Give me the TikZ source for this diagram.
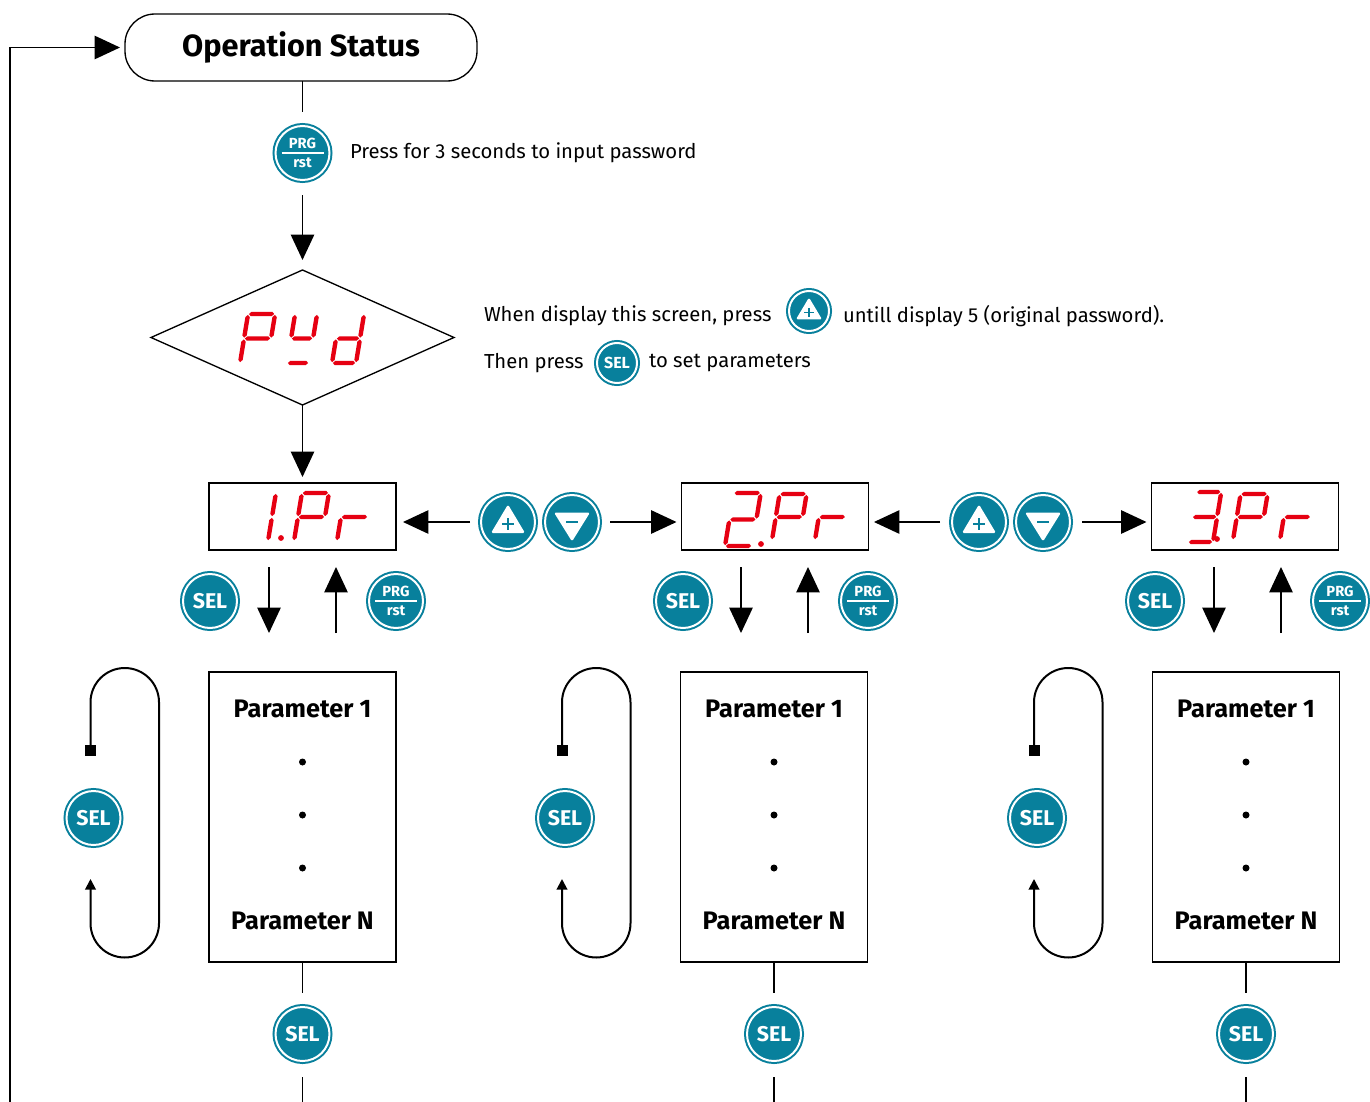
\documentclass[tikz,border=0pt]{standalone}
\usepackage{fontspec}
\setmainfont{Fira Sans}
\usetikzlibrary{arrows.meta,shapes.geometric,calc}
\definecolor{teal0}{RGB}{8,128,156}
\definecolor{segred}{RGB}{230,0,18}
\tikzset{
  arr/.style={line width=1.1pt, -{Triangle[length=19pt,width=17.5pt]}},
  conn/.style={line width=1.1pt},
  btn/.style={circle, fill=teal0, draw=teal0, double=white, double distance=1.5pt, line width=1.5pt, minimum size=40.5pt, inner sep=0pt, outer sep=0pt, text=white, font=\fontsize{16}{18}\selectfont\bfseries},
  sbtn/.style={btn, minimum size=30pt, font=\fontsize{12}{14}\selectfont\bfseries},
  box/.style={draw, line width=1pt, rectangle, inner sep=0pt, outer sep=0pt},
  lbl/.style={inner sep=0pt, outer sep=0pt, font=\fontsize{15.2}{18}\selectfont},
  ptxt/.style={inner sep=0pt, font=\fontsize{19}{22}\selectfont\bfseries},
  pdot/.style={circle, fill=black, inner sep=0pt, minimum size=5.25pt},
  loopl/.style={line width=1.5pt, rounded corners=25.7pt, -{Triangle[length=8pt,width=8pt]}},
  btxt/.style={inner sep=0pt, text=white, font=\fontsize{11}{12}\selectfont\bfseries},
}
\newcommand\SSh{2.2}
\newcommand\SSgap{0.9}
\newcommand\segH[3]{\fill[segred] (#1,#3) -- ({#1+\SSh},{#3-\SSh}) -- ({#2-\SSh},{#3-\SSh}) -- (#2,#3) -- ({#2-\SSh},{#3+\SSh}) -- ({#1+\SSh},{#3+\SSh}) -- cycle;}
\newcommand\segV[3]{\fill[segred] (#1,#2) -- ({#1+\SSh},{#2+\SSh}) -- ({#1+\SSh},{#3-\SSh}) -- (#1,#3) -- ({#1-\SSh},{#3-\SSh}) -- ({#1-\SSh},{#2+\SSh}) -- cycle;}
\newcommand\SSa{\segH{\SSgap}{\dW-\SSgap}{-\dH}}
\newcommand\SSb{\segV{\dW}{-\dH+\SSgap}{-\dH/2-\SSgap}}
\newcommand\SSc{\segV{\dW}{-\dH/2+\SSgap}{-\SSgap}}
\newcommand\SSd{\segH{\SSgap}{\dW-\SSgap}{0}}
\newcommand\SSe{\segV{0}{-\dH/2+\SSgap}{-\SSgap}}
\newcommand\SSf{\segV{0}{-\dH+\SSgap}{-\dH/2-\SSgap}}
\newcommand\SSg{\segH{\SSgap}{\dW-\SSgap}{-\dH/2}}
\newcommand\sevseg[5]{\begin{scope}[shift={(#1,#2)}, xslant=0.165]\def\dW{#3}\def\dH{#4}\foreach \q in {#5}{\csname SS\q\endcsname}\end{scope}}
\newcommand\prglabel[1]{\begin{scope}[shift={(#1.center)}]
 \node[btxt] (#1t) at (0,-10) {PRG};
 \draw[white, line width=1.5pt] (-21,0) -- (21,0);
 \node[btxt] (#1b) at (0,9.5) {rst};
\end{scope}}
\newcommand\upsym[2]{\begin{scope}[shift={(#1.center)}, scale=#2]
 \fill[white, rounded corners=1.2pt] (0,-17.5) -- (17,11) -- (-17,11) -- cycle;
 \draw[teal0, line width=1.1pt] (-6,2) -- (6,2) (0,-4) -- (0,8);
\end{scope}}
\newcommand\dnsym[2]{\begin{scope}[shift={(#1.center)}, scale=#2]
 \fill[white, rounded corners=1.2pt] (-18,-9.5) -- (18,-9.5) -- (0,19.5) -- cycle;
 \draw[teal0, line width=1.1pt] (-6,0) -- (6,0);
\end{scope}}
\begin{document}
\begin{tikzpicture}[x=0.75pt,y=-0.75pt]
\useasboundingbox (0,0) rectangle (1370,1102);
\fill[white] (0,0) rectangle (1370,1102);

\node[box, rounded corners=22.5pt, minimum width=264pt, minimum height=50.25pt, font=\fontsize{23}{27}\selectfont\bfseries] (os) at (301,47.5) {Operation Status};

\node[btn] (prg0) at (302.5,153) {};
\prglabel{prg0}
\node[lbl, anchor=west] (t1) at (350,153) {Press for 3 seconds to input password};

\node[diamond, draw, line width=1pt, minimum width=227.25pt, minimum height=101.25pt, inner sep=0pt, outer sep=0pt] (pyd) at (302.5,337.5) {};
\sevseg{240}{363}{27}{49}{a,b,e,f,g}
\sevseg{287}{363}{22}{49}{f,b,g,d}
\sevseg{332}{363}{24}{49}{b,c,d,e,g}

\node[lbl, anchor=west] (t2) at (484,316) {When display this screen, press};
\node[sbtn] (upi) at (809,311) {};
\upsym{upi}{0.77}
\node[lbl, anchor=west] (t3) at (843,316) {untill display 5 (original password).};
\node[lbl, anchor=west] (t4) at (484,363) {Then press};
\node[sbtn] (seli) at (617,363) {SEL};
\node[lbl, anchor=west] (t5) at (649,363) {to set parameters};

\draw[conn, shorten >=10.5pt] (os.south -| prg0.north) -- (prg0.north);
\draw[arr, shorten <=11.25pt, shorten >=7.5pt] (prg0.south) -- (pyd.north);

% display boxes
\node[box, minimum width=140.25pt, minimum height=50.25pt] (d1) at (302.5,516.5) {};
\node[box, minimum width=140.25pt, minimum height=50.25pt] (d2) at (775,516.5) {};
\node[box, minimum width=140.25pt, minimum height=50.25pt] (d3) at (1245,516.5) {};
\draw[arr, shorten >=4.5pt] (pyd.south) -- (d1.north);

\sevseg{241}{541}{27}{48}{b,c}
\fill[segred] (281,538) circle (2.9);
\sevseg{294}{541}{27}{48}{a,b,e,f,g}
\sevseg{337}{541}{27}{48}{e,g}

\sevseg{725}{546}{27}{53}{a,b,g,e,d}
\fill[segred] (761,544) circle (2.9);
\sevseg{772}{540}{27}{46}{a,b,e,f,g}
\sevseg{815}{540}{27}{46}{e,g}

\sevseg{1188}{542}{25}{50}{a,b,c,d,g}
\fill[segred] (1217,539) circle (2.9);
\sevseg{1233}{540}{27}{46}{a,b,e,f,g}
\sevseg{1280}{540}{27}{46}{e,g}

% up / down buttons
\node[btn] (u1) at (508,522) {};
\upsym{u1}{1}
\node[btn] (m1) at (572,522) {};
\dnsym{m1}{1}
\node[btn] (u2) at (979,522) {};
\upsym{u2}{1}
\node[btn] (m2) at (1043,522) {};
\dnsym{m2}{1}
\draw[arr, shorten <=8.25pt, shorten >=5.25pt] (u1.west) -- (u1.west -| d1.east);
\draw[arr, shorten <=8.25pt, shorten >=3.75pt] (m1.east) -- (m1.east -| d2.west);
\draw[arr, shorten <=9pt, shorten >=4.1pt] (u2.west) -- (u2.west -| d2.east);
\draw[arr, shorten <=9pt, shorten >=3.75pt] (m2.east) -- (m2.east -| d3.west);

% columns
\foreach \i/\cx/\sx/\px/\lx/\ax/\bx in {1/302.5/210/396/90.5/269/336, 2/774/683/868/562/741/808, 3/1246/1155/1340/1034/1214/1281}{
  \node[box, minimum width=140.25pt, minimum height=217.5pt] (p\i) at (\cx,817) {};
  \node[ptxt] (pa\i) at (\cx,709) {Parameter 1};
  \node[ptxt] (pn\i) at (\cx,921) {Parameter N};
  \node[pdot] (da\i) at (\cx,762) {};
  \node[pdot] (db\i) at (\cx,815) {};
  \node[pdot] (dc\i) at (\cx,868) {};
  \node[btn] (s\i) at (\sx,601) {SEL};
  \node[btn] (r\i) at (\px,601) {};
  \prglabel{r\i}
  \coordinate (ax\i) at (\ax,600);
  \coordinate (bx\i) at (\bx,600);
  \draw[arr, shorten <=12.75pt, shorten >=29.25pt] (d\i.south -| ax\i) -- (p\i.north -| ax\i);
  \draw[arr, shorten <=29.25pt, shorten >=12.75pt] (p\i.north -| bx\i) -- (d\i.south -| bx\i);
  \node[btn] (l\i) at ({\lx+3},818) {SEL};
  \fill ({\lx-5.5},744.5) rectangle ++(11,11);
  \draw[loopl] (\lx,750) -- (\lx,668) -- ({\lx+68.5},668) -- ({\lx+68.5},957.5) -- (\lx,957.5) -- (\lx,879);
  \node[btn] (b\i) at (\cx,1034) {SEL};
  \coordinate (e\i) at (\cx,1102);
  \draw[conn, shorten >=10.5pt] (p\i.south) -- (b\i.north);
  \draw[conn, shorten <=12pt] (b\i.south) -- (e\i);
}

\coordinate (ret) at (10,1102);
\draw[arr, shorten >=3.75pt] (ret) |- (os.west);
\end{tikzpicture}
\end{document}
